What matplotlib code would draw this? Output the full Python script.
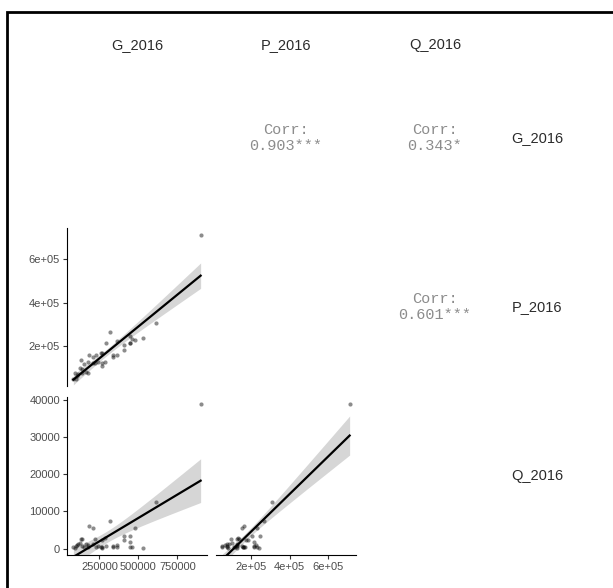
import numpy as np
import matplotlib
matplotlib.use("Agg")
import matplotlib.pyplot as plt
from matplotlib.patches import Rectangle

# variables and their values per observation
var_names = ["G_2016", "P_2016", "Q_2016"]

G_2016 = [899000, 610000, 321000, 186000, 207000, 480000, 407000, 447000, 409000, 449000,
          130000, 136000, 224000, 265000, 289000, 291000, 362000, 458000, 529000, 362000,
          334000, 335000, 228000, 261000, 244000, 265000, 177000, 207000, 149000, 128000,
          267000, 91000, 115000, 138000, 164000, 175000, 83000, 100000, 106000, 443000]
P_2016 = [712000, 306000, 267000, 162000, 150000, 230000, 204000, 247000, 185000, 215000,
          136000, 97000, 124000, 171000, 129000, 215000, 224000, 232000, 239000, 159000,
          159000, 150000, 162000, 167000, 127000, 124000, 127000, 124000, 117000, 98500,
          111000, 79000, 73000, 76000, 83000, 76000, 50000, 50000, 65000, 215000]
Q_2016 = [38800, 12400, 7300, 6000, 5400, 5500, 3500, 3400, 2300, 1700,
          2700, 2700, 2500, 2300, 2850, 700, 1000, 300, 200, 500,
          300, 800, 300, 400, 600, 200, 900, 1200, 500, 1500,
          300, 200, 1100, 700, 1200, 400, 300, 600, 1000, 400]

corr_labels = {(0, 1): "Corr:\n0.903***", (0, 2): "Corr:\n0.343*", (1, 2): "Corr:\n0.601***"}

x_ticks = {0: [250000, 500000, 750000], 1: [200000, 400000, 600000]}
x_ticklabels = {0: ["250000", "500000", "750000"], 1: ["2e+05", "4e+05", "6e+05"]}
y_ticks = {1: [200000, 400000, 600000], 2: [0, 10000, 20000, 30000, 40000]}
y_ticklabels = {1: ["2e+05", "4e+05", "6e+05"], 2: ["0", "10000", "20000", "30000", "40000"]}

data = [np.array(G_2016, float), np.array(P_2016, float), np.array(Q_2016, float)]

W, H = 613, 588
fig = plt.figure(figsize=(W / 100, H / 100), dpi=100)
fig.patch.set_facecolor("white")

col_left = [67, 216, 365]
row_top = [59, 228, 397]
pw, ph = 140, 158


def px_axes(l, t, w, h):
    return fig.add_axes([l / W, 1 - (t + h) / H, w / W, h / H])


def padded(v):
    r = v.max() - v.min()
    return v.min() - 0.05 * r, v.max() + 0.05 * r


def lm_band(x, y, n=80):
    b, a = np.polyfit(x, y, 1)
    xs = np.linspace(x.min(), x.max(), n)
    resid = y - (a + b * x)
    dof = len(x) - 2
    s = np.sqrt(np.sum(resid ** 2) / dof)
    se = s * np.sqrt(1 / len(x) + (xs - x.mean()) ** 2 / np.sum((x - x.mean()) ** 2))
    t = 2.024
    fit = a + b * xs
    return xs, fit, fit - t * se, fit + t * se


tick_font = dict(family="Liberation Sans", size=8, color="#4d4d4d")

for i in range(3):
    for j in range(3):
        if i == j:
            continue
        ax = px_axes(col_left[j], row_top[i], pw, ph)
        if j > i:
            ax.axis("off")
            ax.text(0.5, 0.5, corr_labels[(i, j)], ha="center", va="center",
                    family="Liberation Mono", fontsize=11, color="#8c8c8c",
                    linespacing=1.2, transform=ax.transAxes)
            continue
        x, y = data[j], data[i]
        xs, fit, lo, hi = lm_band(x, y)
        ax.fill_between(xs, lo, hi, color="#999999", alpha=0.4, lw=0, zorder=1)
        ax.scatter(x, y, s=9, color="black", alpha=0.45, lw=0, zorder=2)
        ax.plot(xs, fit, color="black", lw=1.6, zorder=3)
        ax.set_xlim(*padded(x))
        ax.set_ylim(*padded(y))
        for sp in ax.spines.values():
            sp.set_visible(False)
        ax.tick_params(length=3, width=0.8, color="#333333", pad=2)
        if j == 0:
            ax.spines["left"].set_visible(True)
            ax.spines["left"].set_linewidth(0.8)
            ax.set_yticks(y_ticks[i])
            ax.set_yticklabels(y_ticklabels[i], **tick_font)
        else:
            ax.set_yticks([])
        if i == 2:
            ax.spines["bottom"].set_visible(True)
            ax.spines["bottom"].set_linewidth(0.8)
            ax.set_xticks(x_ticks[j])
            ax.set_xticklabels(x_ticklabels[j], **tick_font)
        else:
            ax.set_xticks([])

# strip labels along the top and right
for k, name in enumerate(var_names):
    fig.text((col_left[k] + pw / 2) / W, 1 - 45 / H, name, ha="center", va="center",
             family="Liberation Sans", fontsize=10.5, color="#2b2b2b")
    fig.text(537 / W, 1 - (row_top[k] + ph / 2) / H, name, ha="center", va="center",
             family="Liberation Sans", fontsize=10.5, color="#2b2b2b")

# outer frame, open to the right and bottom
fig.patches.append(Rectangle((7 / W, -0.2), 1.2, 1.2 - 12 / H, transform=fig.transFigure,
                             fill=False, edgecolor="black", lw=2))

fig.savefig("out.png", dpi=100, facecolor="white")
